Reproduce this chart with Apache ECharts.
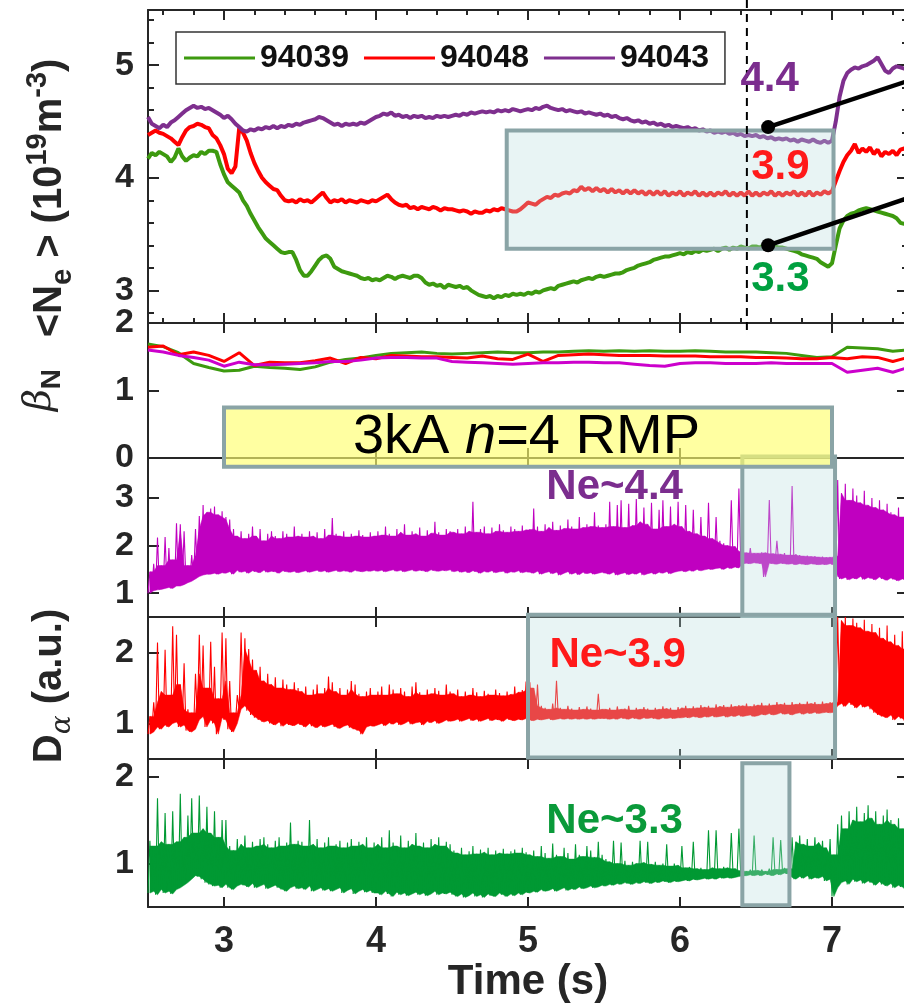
<!DOCTYPE html>
<html>
<head>
<meta charset="utf-8">
<script src="https://cdn.jsdelivr.net/npm/echarts@6/dist/echarts.min.js"></script>
<style>
  html, body { margin: 0; padding: 0; background: #ffffff; }
  #chart { width: 904px; height: 1007px; }
</style>
</head>
<body>
<div id="chart"></div>
<script>
// ---------------- time base ----------------
const T_START = 2.5, T_END = 7.5;
const NE_DT = 0.025;    // line-averaged density sampling (s)
const BETA_DT = 0.1;    // beta_N sampling (s)
const DA_DT = 0.025;    // D-alpha bin width (s): each bin stores its min and max

const shots = ['94039', '94048', '94043'];
const timeTicks = [3, 4, 5, 6, 7];
const timeMinorTicks = [2.6, 2.8, 3.2, 3.4, 3.6, 3.8, 4.2, 4.4, 4.6, 4.8, 5.2, 5.4, 5.6, 5.8, 6.2, 6.4, 6.6, 6.8, 7.2, 7.4];
const neTicks = [3, 4, 5];
const neMinorTicks = [2.8, 3.2, 3.4, 3.6, 3.8, 4.2, 4.4, 4.6, 4.8, 5.2, 5.4];
const betaTicks = [0, 1, 2];
const da43Ticks = [1, 2, 3];
const da48Ticks = [1, 2];
const da39Ticks = [1, 2];

// ---------------- <Ne> (1e19 m^-3), 2.5 .. 7.5 s every 0.025 s ----------------
const ne94039 = [
  4.17,4.22,4.20,4.23,4.21,4.19,4.14,4.18,4.26,4.19,4.15,4.18,4.20,4.19,4.23,4.21,4.24,4.24,4.23,4.12,
  4.03,3.96,3.93,3.90,3.87,3.80,3.75,3.68,3.62,3.56,3.51,3.46,3.43,3.40,3.37,3.34,3.33,3.34,3.34,3.27,
  3.18,3.13,3.13,3.17,3.22,3.27,3.30,3.31,3.28,3.21,3.19,3.17,3.16,3.15,3.14,3.13,3.11,3.10,3.11,3.09,
  3.10,3.09,3.11,3.13,3.12,3.10,3.12,3.13,3.12,3.11,3.13,3.13,3.11,3.07,3.05,3.06,3.04,3.05,3.02,3.05,
  3.04,3.03,3.04,3.02,3.03,3.00,2.98,2.96,2.95,2.94,2.95,2.93,2.95,2.94,2.96,2.95,2.97,2.96,2.97,2.96,
  2.98,2.97,2.99,2.98,3.00,3.01,3.02,3.01,3.04,3.05,3.06,3.07,3.08,3.07,3.09,3.10,3.11,3.10,3.12,3.13,
  3.12,3.13,3.14,3.15,3.15,3.16,3.18,3.19,3.20,3.22,3.23,3.24,3.25,3.27,3.28,3.29,3.30,3.30,3.31,3.32,
  3.33,3.32,3.34,3.33,3.35,3.34,3.36,3.35,3.36,3.37,3.35,3.37,3.38,3.36,3.38,3.37,3.39,3.38,3.37,3.39,
  3.39,3.38,3.40,3.39,3.38,3.39,3.38,3.38,3.37,3.36,3.35,3.34,3.32,3.31,3.30,3.29,3.28,3.25,3.23,3.21,
  3.24,3.40,3.55,3.62,3.66,3.68,3.69,3.71,3.72,3.73,3.72,3.71,3.70,3.69,3.68,3.67,3.66,3.64,3.60,3.59,
  3.60
];
const ne94048 = [
  4.38,4.40,4.42,4.40,4.39,4.37,4.35,4.32,4.29,4.36,4.42,4.45,4.46,4.48,4.47,4.45,4.44,4.38,4.35,4.29,
  4.21,4.08,4.04,4.10,4.44,4.40,4.33,4.22,4.13,4.06,4.00,3.96,3.93,3.90,3.89,3.84,3.80,3.79,3.80,3.78,
  3.81,3.79,3.80,3.78,3.81,3.84,3.87,3.82,3.78,3.80,3.79,3.81,3.78,3.80,3.79,3.78,3.80,3.79,3.78,3.80,
  3.79,3.81,3.83,3.85,3.81,3.78,3.76,3.75,3.76,3.73,3.74,3.72,3.74,3.73,3.72,3.74,3.73,3.71,3.73,3.72,
  3.72,3.71,3.70,3.71,3.70,3.68,3.70,3.69,3.69,3.71,3.70,3.72,3.71,3.73,3.72,3.71,3.70,3.70,3.72,3.75,
  3.78,3.77,3.76,3.79,3.81,3.83,3.82,3.85,3.84,3.86,3.87,3.86,3.89,3.88,3.92,3.89,3.91,3.88,3.91,3.88,
  3.90,3.87,3.90,3.87,3.89,3.86,3.89,3.86,3.89,3.86,3.88,3.85,3.88,3.85,3.88,3.85,3.88,3.84,3.87,3.85,
  3.88,3.84,3.87,3.85,3.88,3.84,3.87,3.84,3.87,3.84,3.87,3.85,3.88,3.84,3.87,3.84,3.87,3.84,3.88,3.84,
  3.87,3.84,3.87,3.85,3.88,3.84,3.87,3.84,3.87,3.85,3.88,3.84,3.87,3.84,3.88,3.84,3.87,3.85,3.88,3.86,
  3.88,3.97,4.06,4.14,4.20,4.24,4.30,4.22,4.26,4.23,4.27,4.21,4.25,4.19,4.23,4.21,4.24,4.20,4.25,4.26,
  4.24
];
const ne94043 = [
  4.54,4.48,4.46,4.44,4.47,4.45,4.49,4.51,4.54,4.57,4.60,4.62,4.64,4.62,4.63,4.61,4.62,4.60,4.58,4.56,
  4.53,4.55,4.52,4.48,4.45,4.42,4.41,4.43,4.42,4.44,4.43,4.45,4.44,4.46,4.44,4.46,4.45,4.47,4.46,4.48,
  4.47,4.49,4.50,4.51,4.52,4.54,4.53,4.51,4.49,4.47,4.48,4.46,4.48,4.47,4.48,4.47,4.49,4.48,4.50,4.52,
  4.54,4.55,4.57,4.56,4.58,4.55,4.56,4.54,4.55,4.53,4.55,4.54,4.55,4.53,4.54,4.53,4.55,4.54,4.55,4.54,
  4.55,4.56,4.55,4.57,4.56,4.58,4.57,4.58,4.59,4.58,4.59,4.58,4.60,4.59,4.60,4.59,4.61,4.60,4.59,4.60,
  4.61,4.60,4.62,4.61,4.63,4.64,4.62,4.61,4.60,4.61,4.59,4.60,4.59,4.58,4.59,4.57,4.58,4.57,4.56,4.57,
  4.55,4.56,4.54,4.55,4.53,4.52,4.53,4.51,4.50,4.51,4.49,4.50,4.48,4.49,4.47,4.48,4.46,4.47,4.45,4.46,
  4.45,4.44,4.45,4.43,4.44,4.42,4.43,4.41,4.42,4.40,4.41,4.40,4.41,4.39,4.40,4.38,4.39,4.37,4.38,4.37,
  4.38,4.36,4.37,4.35,4.36,4.34,4.35,4.34,4.35,4.33,4.34,4.32,4.34,4.33,4.32,4.34,4.32,4.31,4.33,4.31,
  4.33,4.50,4.72,4.86,4.93,4.96,4.98,4.97,4.99,5.00,5.02,5.04,5.07,5.01,4.95,4.93,4.97,4.99,4.98,4.97,
  4.98
];

// ---------------- beta_N, 2.5 .. 7.5 s every 0.1 s ----------------
const beta94039 = [1.69,1.65,1.56,1.40,1.34,1.29,1.30,1.36,1.34,1.33,1.31,1.35,1.42,1.46,1.48,1.52,1.55,1.56,1.57,1.55,
  1.54,1.55,1.56,1.57,1.56,1.56,1.57,1.57,1.58,1.59,1.58,1.59,1.58,1.59,1.58,1.58,1.59,1.58,1.57,1.57,
  1.57,1.56,1.55,1.52,1.49,1.50,1.64,1.63,1.62,1.58,1.60];
const beta94048 = [1.64,1.66,1.53,1.57,1.52,1.43,1.56,1.37,1.42,1.41,1.41,1.44,1.48,1.40,1.49,1.47,1.52,1.51,1.50,1.50,
  1.49,1.48,1.51,1.47,1.46,1.54,1.43,1.52,1.53,1.54,1.53,1.52,1.52,1.52,1.51,1.51,1.51,1.50,1.50,1.50,
  1.49,1.49,1.48,1.47,1.47,1.49,1.47,1.50,1.49,1.43,1.49];
const beta94043 = [1.60,1.57,1.52,1.49,1.45,1.36,1.42,1.38,1.38,1.39,1.40,1.41,1.43,1.43,1.45,1.48,1.49,1.49,1.48,1.48,
  1.43,1.42,1.41,1.40,1.39,1.40,1.41,1.41,1.42,1.42,1.41,1.41,1.39,1.37,1.36,1.40,1.41,1.41,1.40,1.40,
  1.40,1.41,1.40,1.40,1.40,1.40,1.27,1.30,1.33,1.27,1.34];

// ---------------- D-alpha (a.u.), per-bin min / max, bins start at 2.5 s ----------------
const da94043Lo = [
  1.00,1.05,1.07,1.08,1.10,1.12,1.10,1.15,1.15,1.18,1.22,1.25,1.30,1.35,1.38,1.40,1.40,1.42,1.40,1.43,
  1.42,1.45,1.40,1.48,1.44,1.46,1.42,1.47,1.45,1.43,1.48,1.44,1.46,1.45,1.42,1.47,1.45,1.44,1.46,1.43,
  1.45,1.47,1.44,1.46,1.48,1.45,1.47,1.44,1.46,1.48,1.45,1.47,1.46,1.44,1.48,1.46,1.45,1.47,1.46,1.48,
  1.46,1.48,1.45,1.47,1.49,1.46,1.48,1.45,1.47,1.49,1.46,1.48,1.47,1.45,1.49,1.47,1.46,1.48,1.47,1.49,
  1.45,1.47,1.44,1.46,1.43,1.47,1.45,1.42,1.46,1.44,1.47,1.43,1.45,1.46,1.42,1.45,1.44,1.47,1.43,1.45,
  1.44,1.42,1.46,1.40,1.43,1.45,1.41,1.44,1.38,1.42,1.45,1.40,1.43,1.39,1.44,1.41,1.43,1.40,1.42,1.44,
  1.42,1.40,1.44,1.38,1.41,1.43,1.39,1.42,1.40,1.44,1.38,1.41,1.43,1.40,1.44,1.42,1.45,1.41,1.44,1.46,
  1.47,1.45,1.48,1.46,1.50,1.47,1.49,1.51,1.50,1.52,1.53,1.50,1.54,1.52,1.55,1.53,1.62,1.63,1.62,1.64,
  1.63,1.62,1.34,1.63,1.62,1.61,1.63,1.62,1.61,1.62,1.60,1.62,1.61,1.60,1.62,1.61,1.60,1.61,1.60,1.62,
  1.60,1.35,1.30,1.33,1.28,1.32,1.30,1.35,1.29,1.33,1.31,1.28,1.34,1.30,1.27,1.32,1.29,1.26,1.30,1.28
];
const da94043Hi = [
  1.45,1.62,2.17,1.58,2.18,1.95,1.70,2.47,2.45,2.30,1.58,1.80,2.35,2.62,2.85,2.70,2.78,2.82,2.65,2.72,
  2.60,2.55,2.35,2.20,2.30,2.15,2.25,2.40,2.20,2.35,2.10,2.25,2.30,2.20,2.15,2.30,2.25,2.18,2.40,2.20,
  2.25,2.18,2.30,2.20,2.28,2.15,2.35,2.22,2.58,2.25,2.20,2.30,2.18,2.25,2.20,2.32,2.22,2.18,2.28,2.20,
  2.30,2.22,2.40,2.25,2.20,2.35,2.28,2.45,2.22,2.30,2.25,2.38,2.20,2.32,2.26,2.50,2.28,2.22,2.35,2.30,
  2.28,2.35,2.25,2.40,2.30,2.92,2.28,2.35,2.40,2.25,2.38,2.30,2.45,2.32,2.28,2.40,2.35,2.30,2.42,2.33,
  2.35,2.78,2.40,2.30,2.45,2.38,2.50,2.32,2.42,2.36,2.55,2.40,2.35,2.60,2.38,2.45,2.40,2.70,2.42,2.38,
  2.45,2.92,2.40,2.85,2.95,2.38,2.88,2.42,2.98,2.50,2.80,2.45,2.90,2.35,2.75,2.95,2.40,2.82,2.45,2.92,
  2.40,2.85,2.30,2.75,2.25,2.60,2.20,2.90,2.15,2.60,2.10,2.05,2.00,2.95,1.98,3.20,1.88,1.85,1.95,1.84,
  1.84,1.86,1.85,2.96,1.83,2.10,1.82,1.84,1.80,3.25,1.82,1.80,1.78,1.79,1.77,1.78,1.76,1.77,1.75,1.76,
  1.78,3.38,3.10,3.30,2.95,3.20,3.05,2.90,3.15,2.85,3.00,2.80,2.95,2.75,2.88,2.70,2.65,2.80,2.60,2.70
];
const da94048Lo = [
  0.85,0.88,0.95,0.92,0.98,0.95,1.00,1.02,0.95,0.98,0.90,0.88,0.92,1.05,1.10,0.95,1.05,1.00,0.85,1.08,
  1.05,0.92,0.88,1.00,1.20,1.25,1.18,1.12,1.08,1.05,1.02,1.04,1.00,0.98,1.02,0.96,1.00,0.98,0.97,1.00,
  0.98,0.95,1.00,0.96,0.94,0.98,0.95,0.97,0.99,0.95,0.93,0.96,0.98,0.94,0.92,0.90,0.85,0.95,0.97,0.96,
  0.98,1.00,0.97,1.01,0.99,1.02,0.98,1.00,1.03,0.99,1.01,1.02,0.98,1.03,1.01,1.04,1.00,1.02,1.05,1.03,
  1.04,1.06,1.03,1.05,1.07,1.04,1.06,1.03,1.05,1.07,1.04,1.06,1.05,1.03,1.07,1.05,1.04,1.06,1.05,1.07,
  1.05,1.04,1.06,1.05,1.06,1.07,1.05,1.06,1.07,1.06,1.07,1.06,1.07,1.06,1.07,1.06,1.07,1.06,1.07,1.07,
  1.07,1.06,1.07,1.06,1.08,1.07,1.06,1.08,1.07,1.06,1.08,1.07,1.08,1.07,1.06,1.08,1.07,1.08,1.07,1.08,
  1.08,1.09,1.08,1.10,1.09,1.08,1.10,1.09,1.11,1.09,1.10,1.11,1.09,1.11,1.10,1.12,1.10,1.11,1.12,1.10,
  1.11,1.13,1.12,1.14,1.12,1.13,1.15,1.13,1.14,1.12,1.14,1.15,1.13,1.15,1.14,1.16,1.14,1.15,1.16,1.15,
  1.16,1.25,1.28,1.24,1.30,1.26,1.22,1.27,1.23,1.25,1.20,1.15,1.12,1.10,1.08,1.12,1.05,1.10,1.07,1.04
];
const da94048Hi = [
  1.10,1.30,2.14,1.45,2.04,1.40,2.37,2.25,1.55,1.85,1.20,1.15,1.70,2.25,2.10,1.50,2.15,1.80,1.35,2.28,
  2.20,1.60,1.15,1.40,2.28,2.20,2.05,1.90,1.75,1.80,1.60,1.70,1.55,1.65,1.50,1.62,1.55,1.48,1.58,1.50,
  1.45,1.52,1.40,1.48,1.55,1.42,1.50,1.66,1.58,1.45,1.50,1.40,1.48,1.60,1.55,1.42,1.38,1.45,1.50,1.40,
  1.45,1.52,1.40,1.55,1.48,1.42,1.50,1.45,1.38,1.52,1.58,1.44,1.40,1.48,1.42,1.50,1.46,1.40,1.55,1.45,
  1.42,1.48,1.38,1.45,1.40,1.50,1.44,1.38,1.46,1.42,1.40,1.48,1.43,1.39,1.45,1.41,1.52,1.44,1.47,1.59,
  1.58,1.50,1.55,1.25,1.22,1.20,1.28,1.60,1.22,1.20,1.25,1.21,1.19,1.23,1.20,1.24,1.21,1.19,1.42,1.20,
  1.20,1.22,1.19,1.24,1.20,1.21,1.25,1.19,1.22,1.20,1.23,1.21,1.19,1.22,1.20,1.24,1.21,1.22,1.19,1.23,
  1.22,1.25,1.21,1.24,1.22,1.26,1.23,1.25,1.22,1.27,1.24,1.26,1.23,1.27,1.24,1.26,1.25,1.28,1.24,1.27,
  1.26,1.29,1.25,1.28,1.26,1.30,1.27,1.29,1.26,1.30,1.27,1.29,1.27,1.31,1.28,1.30,1.27,1.31,1.28,1.30,
  1.30,2.50,2.45,2.50,2.38,2.48,2.42,2.35,2.46,2.30,2.40,2.28,2.35,2.20,2.38,2.15,2.25,2.10,2.30,2.05
];
const da94039Lo = [
  0.66,0.68,0.64,0.70,0.66,0.68,0.65,0.70,0.72,0.75,0.78,0.82,0.86,0.85,0.82,0.78,0.76,0.74,0.75,0.72,
  0.76,0.72,0.70,0.74,0.76,0.75,0.73,0.77,0.72,0.74,0.76,0.71,0.73,0.75,0.72,0.70,0.68,0.72,0.74,0.71,
  0.72,0.70,0.74,0.68,0.70,0.72,0.69,0.71,0.68,0.70,0.72,0.66,0.69,0.71,0.65,0.68,0.70,0.67,0.69,0.66,
  0.66,0.64,0.68,0.65,0.62,0.67,0.64,0.66,0.63,0.65,0.67,0.64,0.66,0.63,0.65,0.68,0.64,0.66,0.65,0.67,
  0.64,0.62,0.65,0.61,0.63,0.66,0.62,0.64,0.61,0.65,0.63,0.62,0.66,0.64,0.62,0.65,0.63,0.66,0.64,0.67,
  0.66,0.68,0.67,0.70,0.68,0.69,0.71,0.68,0.70,0.72,0.69,0.71,0.70,0.73,0.71,0.72,0.74,0.72,0.73,0.75,
  0.74,0.76,0.75,0.77,0.76,0.78,0.77,0.76,0.78,0.77,0.79,0.78,0.77,0.79,0.78,0.80,0.79,0.78,0.80,0.79,
  0.80,0.81,0.80,0.82,0.81,0.82,0.83,0.82,0.83,0.82,0.84,0.83,0.84,0.83,0.84,0.85,0.86,0.86,0.87,0.86,
  0.87,0.86,0.88,0.87,0.86,0.88,0.87,0.89,0.88,0.84,0.82,0.85,0.83,0.86,0.82,0.84,0.83,0.85,0.80,0.82,
  0.62,0.72,0.78,0.80,0.76,0.82,0.79,0.81,0.77,0.80,0.78,0.75,0.79,0.76,0.74,0.77,0.72,0.75,0.73,0.71
];
const da94039Hi = [
  1.26,1.20,1.75,1.25,1.58,1.22,1.60,1.25,1.80,1.30,1.55,1.75,1.35,1.78,1.40,1.65,1.35,1.60,1.30,1.50,
  1.50,1.20,1.15,1.28,1.22,1.32,1.18,1.25,1.20,1.28,1.30,1.22,1.18,1.26,1.30,1.20,1.24,1.47,1.22,1.26,
  1.25,1.20,1.50,1.22,1.28,1.18,1.24,1.30,1.20,1.22,1.26,1.18,1.24,1.28,1.20,1.25,1.22,1.30,1.18,1.24,
  1.22,1.30,1.18,1.38,1.24,1.20,1.32,1.18,1.26,1.22,1.35,1.20,1.24,1.18,1.28,1.22,1.30,1.20,1.25,1.22,
  1.15,1.12,1.18,1.10,1.14,1.20,1.11,1.16,1.13,1.18,1.10,1.15,1.12,1.17,1.11,1.14,1.16,1.12,1.18,1.13,
  1.10,1.15,1.08,1.20,1.12,1.06,1.23,1.10,1.08,1.18,1.12,1.05,1.22,1.10,1.08,1.20,1.15,1.07,1.25,1.10,
  1.05,1.02,1.26,1.00,1.24,1.03,0.98,1.02,1.00,1.26,1.01,1.25,0.99,1.02,0.98,1.00,1.22,0.97,1.00,0.98,
  1.20,0.95,0.96,1.25,0.94,0.95,0.93,1.38,0.95,1.38,0.94,0.96,0.95,1.35,0.94,1.40,0.92,0.91,0.93,1.32,
  0.92,0.93,0.91,0.94,1.30,0.93,1.27,0.95,0.94,1.30,1.25,1.32,1.22,1.28,1.20,1.30,1.24,1.26,1.18,1.28,
  1.10,1.45,1.55,1.40,1.60,1.50,1.65,1.48,1.58,1.67,1.52,1.60,1.45,1.55,1.62,1.50,1.45,1.52,1.40,1.48
];

// ---------------- annotations (data coordinates) ----------------
const rmpWindow = [3.0, 7.0];            // coil current flat-top (s)
const rmpBandBeta = [-0.13, 0.75];       // vertical extent of the banner on the beta_N scale
const neWindow = [4.86, 7.01];           // highlighted density window (s)
const neWindowLevels = [3.37, 4.42];
const daWin43 = [6.41, 7.02], daWin48 = [5.0, 7.02], daWin39 = [6.41, 6.72];
const markTime = 6.44;                   // dashed time marker (s)
const pointerFrom = [[6.58, 4.45], [6.58, 3.40]];
const pointerTo = [[7.5, 4.86], [7.5, 3.82]];
const densityTags = ['4.4', '3.9', '3.3'];

// ---------------- styling ----------------
const F = "'Liberation Sans', Arial, Helvetica, sans-serif";
const AX = '#262626';
const C_NE = ['#3d9a0f', '#ff0000', '#7e2f8e'];
const C_BETA = ['#3d9a0f', '#ff0000', '#cc00cc'];
const C_DA = { s43: '#c000c0', s48: '#ff0000', s39: '#009933' };
const BOX_FILL = 'rgba(185,220,220,0.32)';
const BOX_EDGE = '#8aa4a6';

const panels = [
  { top: 10,  height: 313, min: 2.71, max: 5.49, ticks: neTicks },
  { top: 323, height: 135, min: 0,    max: 2,    ticks: betaTicks },
  { top: 458, height: 159, min: 0.5,  max: 3.84, ticks: da43Ticks },
  { top: 617, height: 142, min: 0.5,  max: 2.5,  ticks: da48Ticks },
  { top: 759, height: 148, min: 0.5,  max: 2.2,  ticks: da39Ticks }
];

// ---------------- helpers ----------------
const r4 = v => Math.round(v * 10000) / 10000;
function timed(values, dt) {
  return values.map((v, i) => [r4(T_START + i * dt), v]);
}
// min/max bins as an alternating trace: lo at the bin start, hi at the bin centre
function binTrace(lo, hi, dt) {
  const out = [];
  for (let i = 0; i < lo.length; i++) {
    const t = T_START + i * dt;
    out.push([r4(t), lo[i]]);
    out.push([r4(t + dt / 2), hi[i]]);
  }
  return out;
}

function makeX(gi, pos, ticks, len, showLabels, minor) {
  const ax = {
    gridIndex: gi, type: 'value', position: pos, min: T_START, max: T_END,
    axisLine: { show: !minor, onZero: false, lineStyle: { color: AX, width: 2 } },
    axisTick: { show: true, inside: true, length: len, customValues: ticks, lineStyle: { color: AX, width: 2 } },
    axisLabel: { show: showLabels, customValues: ticks, margin: 17, color: AX, fontSize: 36, fontWeight: 'bold', fontFamily: F },
    splitLine: { show: false }
  };
  if (showLabels) {
    ax.name = 'Time (s)';
    ax.nameLocation = 'middle';
    ax.nameGap = 54;
    ax.nameMoveOverlap = false;
    ax.nameTextStyle = { fontSize: 42, fontWeight: 'bold', color: AX, fontFamily: F };
  }
  return ax;
}
function makeY(gi, pos, p, ticks, len, showLabels, minor) {
  return {
    gridIndex: gi, type: 'value', position: pos, min: p.min, max: p.max,
    axisLine: { show: !minor, onZero: false, lineStyle: { color: AX, width: 2 } },
    axisTick: { show: true, inside: true, length: len, customValues: ticks, lineStyle: { color: AX, width: 2 } },
    axisLabel: { show: showLabels, customValues: ticks, margin: 14, color: AX, fontSize: 34, fontWeight: 'bold', fontFamily: F },
    splitLine: { show: false }
  };
}

const grids = [], xAxes = [], yAxes = [];
panels.forEach((p, i) => {
  grids.push({ left: 148, width: 760, top: p.top, height: p.height, containLabel: false, outerBoundsMode: 'none' });
  const last = i === panels.length - 1;
  xAxes.push(makeX(i, 'bottom', timeTicks, 10, last, false));
  xAxes.push(makeX(i, 'top', timeTicks, 10, false, false));
  yAxes.push(makeY(i, 'left', p, p.ticks, 11, true, false));
  yAxes.push(makeY(i, 'right', p, p.ticks, 11, false, false));
});
// finer ticks on the density panel
xAxes.push(makeX(0, 'bottom', timeMinorTicks, 5, false, true));
xAxes.push(makeX(0, 'top', timeMinorTicks, 5, false, true));
yAxes.push(makeY(0, 'left', panels[0], neMinorTicks, 6, false, true));
yAxes.push(makeY(0, 'right', panels[0], neMinorTicks, 6, false, true));

function lineSeries(name, panel, data, color, width, z) {
  return {
    name, type: 'line', xAxisIndex: 2 * panel, yAxisIndex: 2 * panel, data,
    symbol: 'none', showSymbol: false, clip: true, z: z || 2, silent: true,
    lineStyle: { color, width, join: 'bevel' }, itemStyle: { color }, animation: false
  };
}

// D-alpha core: solid band from each bin's min up to the smallest max of its neighbourhood
function coreSeries(name, panel, lo, hi, color) {
  const rows = lo.map((l, i) => {
    const top = Math.min(hi[Math.max(0, i - 1)], hi[i], hi[Math.min(hi.length - 1, i + 1)]);
    return [r4(T_START + (i + 0.5) * DA_DT), l, Math.max(top, l)];
  });
  return {
    name, type: 'custom', xAxisIndex: 2 * panel, yAxisIndex: 2 * panel, data: rows,
    encode: { x: 0, y: [1, 2] }, silent: true, z: 2, animation: false,
    renderItem(params, api) {
      if (params.dataIndex !== 0) return null;
      const top = rows.map(r => api.coord([r[0], r[2]]));
      const bottom = rows.map(r => api.coord([r[0], r[1]])).reverse();
      return {
        type: 'polygon',
        shape: { points: top.concat(bottom) },
        style: { fill: color, stroke: color, lineWidth: 0.5 }
      };
    }
  };
}

const series = [
  lineSeries(shots[0], 0, timed(ne94039, NE_DT), C_NE[0], 4),
  lineSeries(shots[1], 0, timed(ne94048, NE_DT), C_NE[1], 4),
  lineSeries(shots[2], 0, timed(ne94043, NE_DT), C_NE[2], 4),
  lineSeries('betaN 94039', 1, timed(beta94039, BETA_DT), C_BETA[0], 3),
  lineSeries('betaN 94048', 1, timed(beta94048, BETA_DT), C_BETA[1], 3),
  lineSeries('betaN 94043', 1, timed(beta94043, BETA_DT), C_BETA[2], 3),
  coreSeries('Da core 94043', 2, da94043Lo, da94043Hi, C_DA.s43),
  coreSeries('Da core 94048', 3, da94048Lo, da94048Hi, C_DA.s48),
  coreSeries('Da core 94039', 4, da94039Lo, da94039Hi, C_DA.s39),
  lineSeries('Da 94043', 2, binTrace(da94043Lo, da94043Hi, DA_DT), C_DA.s43, 1.1),
  lineSeries('Da 94048', 3, binTrace(da94048Lo, da94048Hi, DA_DT), C_DA.s48, 1.1),
  lineSeries('Da 94039', 4, binTrace(da94039Lo, da94039Hi, DA_DT), C_DA.s39, 1.1)
];
pointerFrom.forEach((p, k) => {
  const s = lineSeries('pointer ' + k, 0, [
    { value: p, symbol: 'circle', symbolSize: 14 },
    { value: pointerTo[k], symbol: 'none' }
  ], '#000000', 4.5, 10);
  s.showSymbol = true;
  s.symbol = 'circle';
  series.push(s);
});

const chart = echarts.init(document.getElementById('chart'), null, { renderer: 'canvas' });
chart.setOption({
  animation: false,
  backgroundColor: '#ffffff',
  grid: grids,
  xAxis: xAxes,
  yAxis: yAxes,
  legend: {
    data: shots, left: 176, top: 32, orient: 'horizontal',
    icon: 'rect', itemWidth: 71, itemHeight: 3, itemGap: 15,
    padding: [10, 16, 10, 8], borderColor: '#333333', borderWidth: 1.5, backgroundColor: '#ffffff',
    textStyle: { fontSize: 32, fontWeight: 'bold', color: '#111111', fontFamily: F },
    selectedMode: false, z: 6
  },
  series
});

// ---------------- overlays placed through the axes ----------------
const px = (p, t, v) => chart.convertToPixel({ xAxisIndex: 2 * p, yAxisIndex: 2 * p }, [t, v]);
function rectOf(p, tr, vr) {
  const a = px(p, tr[0], vr[1]);
  const b = px(p, tr[1], vr[0]);
  return { x: a[0], y: a[1], width: b[0] - a[0], height: b[1] - a[1] };
}
function boxEl(shape, fill, z) {
  return { type: 'rect', shape, z, silent: true, style: { fill, stroke: BOX_EDGE, lineWidth: 4 } };
}
function tag(p, t, v, text, color, size, z) {
  const q = px(p, t, v);
  return { type: 'text', x: q[0], y: q[1], z: z || 11, silent: true,
    style: { text, fill: color, fontSize: size, fontWeight: 'bold', fontFamily: F, align: 'center', verticalAlign: 'middle' } };
}

const graphics = [];
graphics.push(boxEl(rectOf(0, neWindow, neWindowLevels), BOX_FILL, 5));
graphics.push(boxEl(rectOf(2, daWin43, [0.52, 3.87]), BOX_FILL, 5));
graphics.push(boxEl(rectOf(3, daWin48, [0.52, 2.53]), BOX_FILL, 5));
graphics.push(boxEl(rectOf(4, daWin39, [0.52, 2.15]), BOX_FILL, 5));
graphics.push(boxEl(rectOf(1, rmpWindow, rmpBandBeta), 'rgba(255,255,110,0.65)', 6));

// dashed time marker
const mTop = px(0, markTime, panels[0].max);
graphics.push({ type: 'line', z: 8, silent: true,
  shape: { x1: mTop[0], y1: 0, x2: mTop[0], y2: panels[1].top + 8 },
  style: { stroke: '#000000', lineWidth: 2, lineDash: [8, 6] } });

// banner text
const bq = px(1, 4.99, 0.30);
graphics.push({ type: 'text', x: bq[0], y: bq[1], z: 7, silent: true,
  style: {
    text: '{r|3kA }{i|n}{r|=4 RMP}', align: 'center', verticalAlign: 'middle',
    rich: {
      r: { fontSize: 56, fontFamily: F, fill: '#000000' },
      i: { fontSize: 56, fontFamily: F, fontStyle: 'italic', fill: '#000000' }
    }
  } });

// density tags
graphics.push(tag(0, 6.59, 4.87, densityTags[0], '#7b2d8e', 42));
graphics.push(tag(0, 6.66, 4.09, densityTags[1], '#ff1a1a', 42));
graphics.push(tag(0, 6.66, 3.10, densityTags[2], '#00a040', 42));
graphics.push(tag(2, 5.57, 3.23, 'Ne~' + densityTags[0], '#7b2d8e', 42));
graphics.push(tag(3, 5.59, 1.96, 'Ne~' + densityTags[1], '#ff1a1a', 42));
graphics.push(tag(4, 5.57, 1.48, 'Ne~' + densityTags[2], '#0a9a3a', 42));

// vertical axis titles
function vTitle(x, y, text, rich) {
  return { type: 'text', x, y, rotation: Math.PI / 2, z: 12, silent: true,
    style: { text, rich, align: 'center', verticalAlign: 'middle' } };
}
graphics.push(vTitle(50, 198, '{m|<N}{s|e}{m| > (10}{p|19}{m|m}{p|-3}{m|)}', {
  m: { fontSize: 40, fontWeight: 'bold', fontFamily: F, fill: AX, lineHeight: 54, verticalAlign: 'middle' },
  s: { fontSize: 29, fontWeight: 'bold', fontFamily: F, fill: AX, lineHeight: 30, verticalAlign: 'bottom' },
  p: { fontSize: 29, fontWeight: 'bold', fontFamily: F, fill: AX, lineHeight: 30, verticalAlign: 'top' }
}));
graphics.push(vTitle(40, 390, '{b|\u03b2}{n|N}', {
  b: { fontSize: 38, fontStyle: 'italic', fontFamily: "'DejaVu Serif', serif", fill: AX, lineHeight: 52, verticalAlign: 'middle' },
  n: { fontSize: 28, fontWeight: 'bold', fontFamily: F, fill: AX, lineHeight: 28, verticalAlign: 'bottom' }
}));
graphics.push(vTitle(50, 686, '{d|D}{a|\u03b1}{d| (a.u.)}', {
  d: { fontSize: 40, fontWeight: 'bold', fontFamily: F, fill: AX, lineHeight: 54, verticalAlign: 'middle' },
  a: { fontSize: 28, fontStyle: 'italic', fontFamily: "'DejaVu Serif', serif", fill: AX, lineHeight: 28, verticalAlign: 'bottom' }
}));

chart.setOption({ graphic: { elements: graphics } });
</script>
</body>
</html>
